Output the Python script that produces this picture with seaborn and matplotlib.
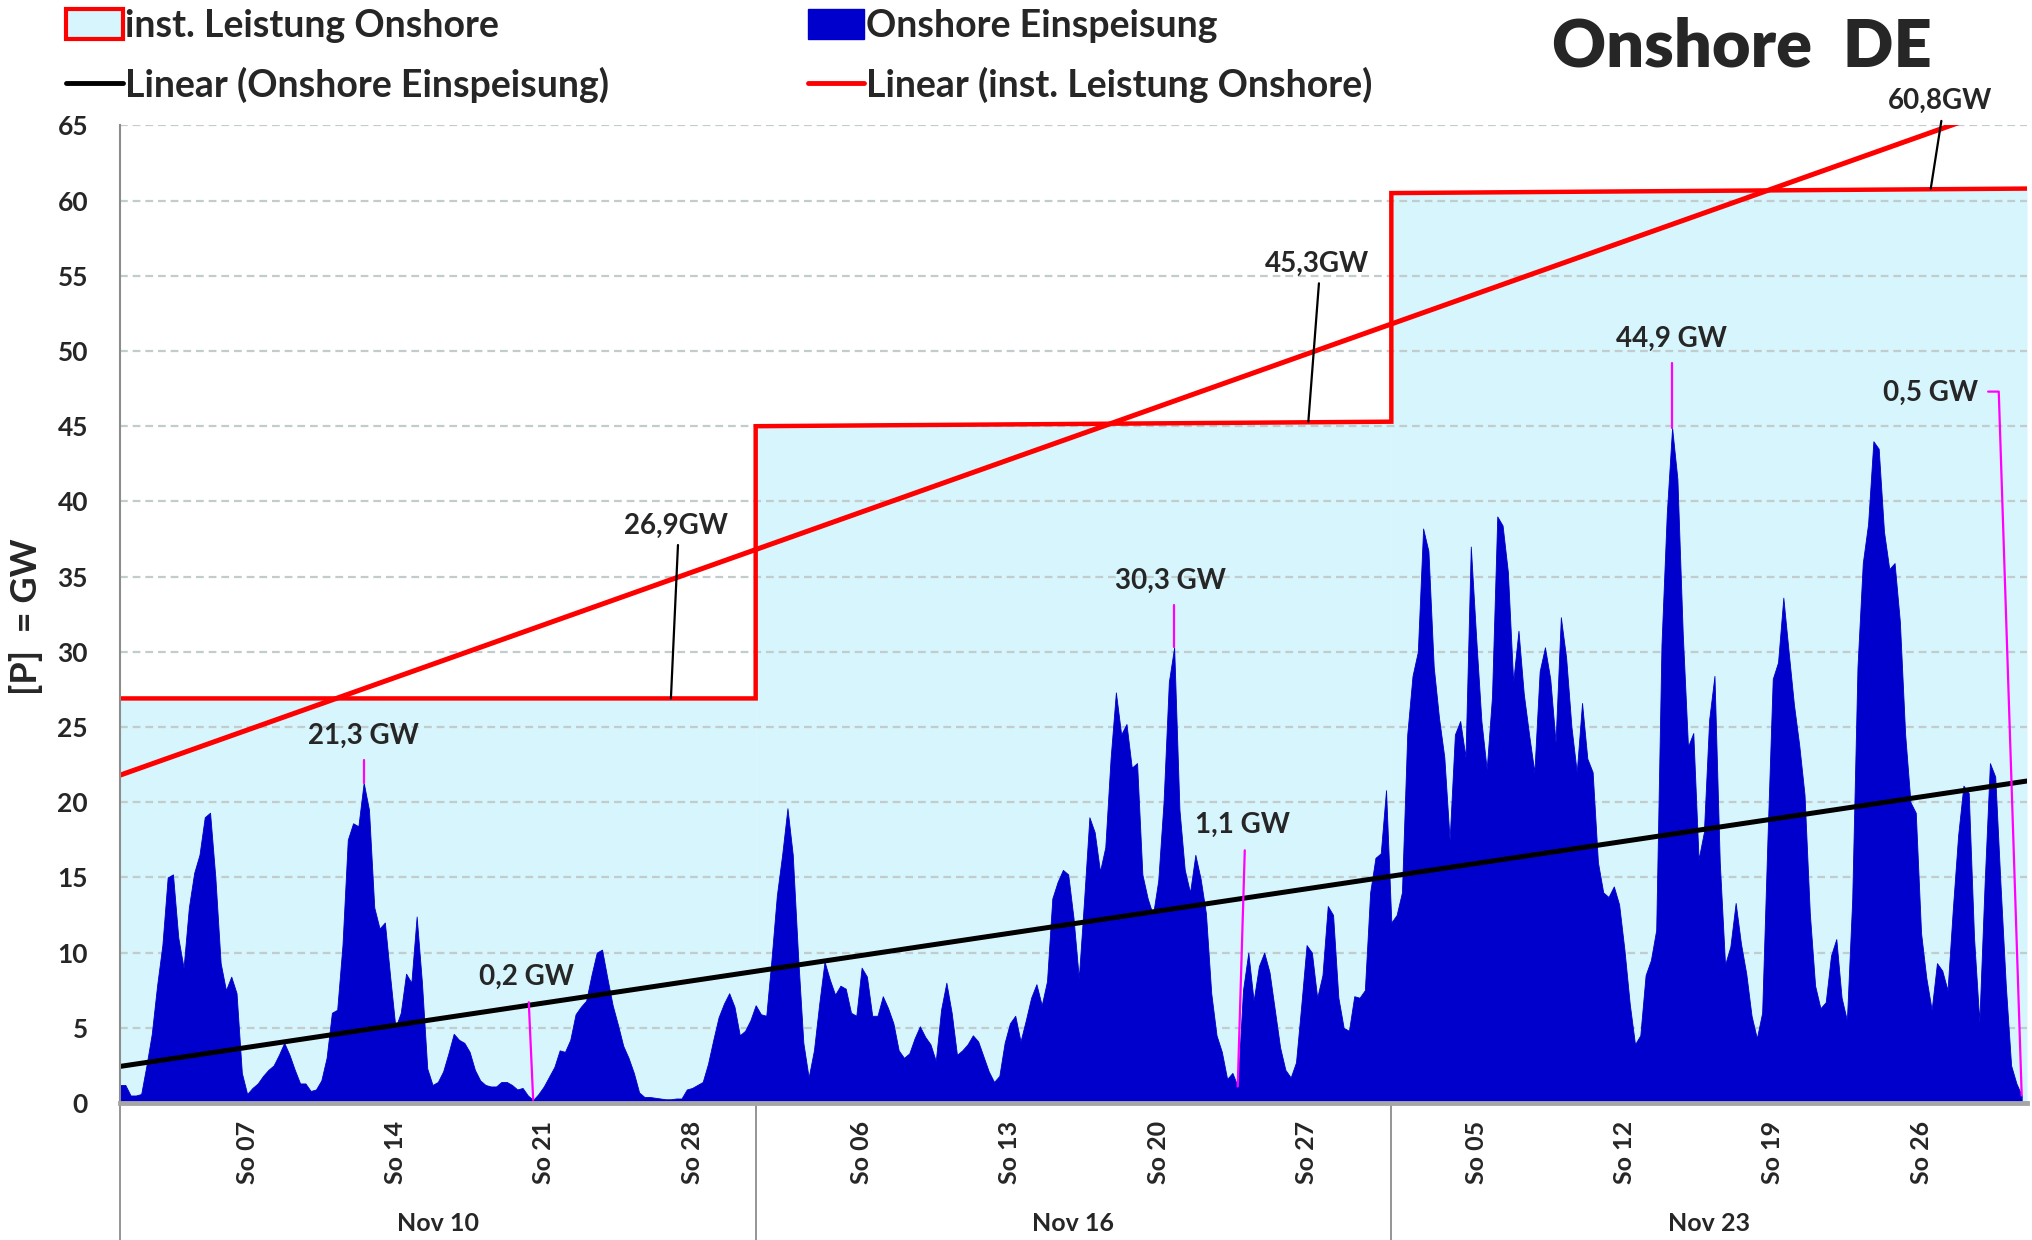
import numpy as np
import pandas as pd
import matplotlib
matplotlib.use("Agg")
import matplotlib.pyplot as plt
import seaborn as sns
from matplotlib.patches import Patch
from matplotlib.lines import Line2D

# ---------------- data (6-hourly feed-in, GW) ----------------
months = ["Nov 10", "Nov 16", "Nov 23"]
nov10 = [1.2, 1.2, 0.5, 0.5, 0.6, 2.5, 4.6, 7.8, 10.5, 15.0,
         15.2, 11.0, 9.0, 13.0, 15.3, 16.5, 19.0, 19.3, 15.0, 9.3,
         7.5, 8.4, 7.3, 2.0, 0.6, 1.0, 1.3, 1.8, 2.2, 2.5,
         3.2, 4.0, 3.2, 2.2, 1.3, 1.3, 0.8, 0.9, 1.5, 3.0,
         6.0, 6.2, 10.5, 17.5, 18.6, 18.4, 21.3, 19.5, 13.0, 11.6,
         12.0, 8.4, 5.0, 6.0, 8.6, 8.0, 12.4, 8.0, 2.3, 1.2,
         1.4, 2.1, 3.3, 4.6, 4.2, 4.0, 3.4, 2.2, 1.5, 1.2,
         1.1, 1.1, 1.4, 1.4, 1.2, 0.9, 1.0, 0.5, 0.2, 0.6,
         1.1, 1.75, 2.4, 3.5, 3.4, 4.2, 5.9, 6.4, 6.8, 8.5,
         10.0, 10.2, 8.3, 6.5, 5.2, 3.8, 3.0, 2.0, 0.7, 0.4,
         0.4, 0.35, 0.3, 0.25, 0.25, 0.3, 0.3, 0.9, 1.0, 1.2,
         1.4, 2.6, 4.2, 5.7, 6.6, 7.3, 6.4, 4.5, 4.8, 5.5]
nov16 = [6.5, 5.9, 5.8, 9.6, 13.8, 16.5, 19.6, 16.5, 9.8, 4.0,
         1.7, 3.5, 6.6, 9.4, 8.2, 7.2, 7.8, 7.6, 6.0, 5.8,
         9.0, 8.4, 5.8, 5.8, 7.1, 6.3, 5.3, 3.5, 3.0, 3.3,
         4.3, 5.1, 4.4, 3.9, 2.8, 6.2, 8.0, 6.0, 3.2, 3.5,
         3.9, 4.5, 4.1, 3.1, 2.1, 1.4, 1.8, 4.0, 5.3, 5.8,
         4.1, 5.5, 7.0, 7.9, 6.5, 8.1, 13.6, 14.7, 15.5, 15.2,
         12.3, 8.3, 13.5, 19.0, 18.0, 15.4, 17.0, 22.9, 27.3, 24.5,
         25.2, 22.3, 22.6, 15.2, 13.6, 12.5, 14.8, 20.0, 28.0, 30.3,
         19.5, 15.5, 14.0, 16.5, 14.9, 12.6, 7.3, 4.5, 3.4, 1.6,
         2.0, 1.1, 7.5, 10.0, 6.8, 9.1, 10.0, 8.7, 6.2, 3.7,
         2.2, 1.7, 2.7, 6.5, 10.5, 10.0, 7.0, 8.5, 13.1, 12.5,
         7.0, 5.0, 4.8, 7.1, 7.0, 7.5, 14.0, 16.3, 16.6, 20.8]
nov23 = [12.0, 12.5, 14.0, 24.5, 28.4, 30.0, 38.2, 36.7, 29.0, 25.6,
         23.0, 17.5, 24.5, 25.4, 23.0, 37.0, 31.0, 25.4, 22.2, 27.0,
         39.0, 38.4, 35.3, 28.0, 31.4, 27.2, 24.5, 22.0, 28.7, 30.3,
         28.2, 24.0, 32.3, 29.6, 25.0, 22.0, 26.6, 22.9, 22.0, 16.0,
         14.0, 13.7, 14.4, 13.2, 10.2, 6.6, 3.9, 4.5, 8.5, 9.5,
         11.5, 30.5, 39.2, 44.9, 41.5, 31.3, 23.7, 24.6, 16.2, 18.0,
         25.5, 28.4, 16.0, 9.2, 10.4, 13.3, 10.6, 8.6, 5.8, 4.3,
         6.0, 17.5, 28.2, 29.3, 33.6, 30.0, 26.5, 23.8, 20.5, 12.6,
         7.8, 6.3, 6.7, 9.8, 10.9, 7.0, 5.5, 13.5, 29.0, 35.9,
         38.5, 44.0, 43.5, 38.0, 35.5, 35.9, 32.0, 24.5, 20.0, 19.3,
         11.3, 8.3, 6.2, 9.3, 8.8, 7.5, 12.9, 17.8, 21.1, 20.6,
         11.0, 5.4, 14.6, 22.6, 21.7, 14.5, 7.8, 2.5, 1.3, 0.5]

inst_start = [26.9, 45.0, 60.5]
inst_end = [26.9, 45.3, 60.8]
inst_labels = ["26,9GW", "45,3GW", "60,8GW"]
sunday_days = [[7, 14, 21, 28], [6, 13, 20, 27], [5, 12, 19, 26]]
peak_labels = ["21,3 GW", "30,3 GW", "44,9 GW"]
low_labels = ["0,2 GW", "1,1 GW", "0,5 GW"]

# ---------------- build frame ----------------
STEP = 6
HPM = 720
series = [nov10, nov16, nov23]
rows = []
for m, vals in enumerate(series):
    for k, v in enumerate(vals):
        rows.append({"month": months[m], "hour": m * HPM + k * STEP, "gw": v,
                     "cap": (inst_start[m] + inst_end[m]) / 2})
df = pd.DataFrame(rows)

# ---------------- style ----------------
sns.set_theme(style="white")
plt.rcParams["font.family"] = ["Lato", "DejaVu Sans"]
plt.rcParams["font.weight"] = "bold"

CYAN = "#D7F5FD"
BLUE = "#0000CC"
RED = "#FF0000"
MAG = "#FF00FF"

fig = plt.figure(figsize=(20.33, 12.4), dpi=100)
ax = fig.add_axes([120 / 2033, 137 / 1240, (2027 - 120) / 2033, (1103 - 125.4) / 1240])
ax.set_xlim(0, 3 * HPM)
ax.set_ylim(0, 65)
ax.set_axisbelow(False)

# installed capacity area (steps)
for m in range(3):
    xs = [m * HPM, (m + 1) * HPM]
    ax.fill_between(xs, [0, 0], [inst_start[m], inst_end[m]], color=CYAN, lw=0, zorder=1)
cap_x, cap_y = [], []
for m in range(3):
    cap_x += [m * HPM, (m + 1) * HPM]
    cap_y += [inst_start[m], inst_end[m]]
ax.plot(cap_x, cap_y, color=RED, lw=3.2, zorder=4, solid_joinstyle="miter")

# feed-in area
ax.fill_between(df["hour"], 0, df["gw"], color=BLUE, lw=0.6, edgecolor=BLUE, zorder=3)

# grid
ax.set_yticks(np.arange(0, 66, 5))
ax.yaxis.grid(True, color="#C3CCCC", lw=1.6, linestyle=(0, (3.5, 2.2)), zorder=2.5)
ax.xaxis.grid(False)

# trend lines
sns.regplot(data=df, x="hour", y="gw", scatter=False, ci=None, truncate=False,
            color="black", line_kws={"lw": 3.6, "zorder": 5}, ax=ax)
sns.regplot(data=df, x="hour", y="cap", scatter=False, ci=None, truncate=False,
            color=RED, line_kws={"lw": 3.6, "zorder": 5}, ax=ax)
ax.set_xlim(0, 3 * HPM)
ax.set_ylim(0, 65)
ax.set_xlabel("")
ax.set_ylabel("")

# ticks
tick_pos, tick_lab = [], []
for m in range(3):
    for d in sunday_days[m]:
        tick_pos.append(m * HPM + (d - 1) * 24)
        tick_lab.append(f"So {d:02d}")
ax.set_xticks(tick_pos)
ax.set_xticklabels(tick_lab, rotation=90, fontsize=18, fontweight="bold")
ax.tick_params(axis="x", length=0, pad=13)
ax.tick_params(axis="y", length=7, width=1.5, color="#8C8C8C", pad=16,
               labelsize=19, direction="out")
for lab in ax.get_yticklabels():
    lab.set_fontweight("bold")

for s in ["top", "right"]:
    ax.spines[s].set_visible(False)
ax.spines["left"].set_color("#8C8C8C")
ax.spines["left"].set_linewidth(1.5)
ax.spines["bottom"].set_color("#A6A6A6")
ax.spines["bottom"].set_linewidth(3.5)
ax.spines["bottom"].set_zorder(6)
ax.spines["left"].set_zorder(6)

# month group separators and labels
trans = ax.get_xaxis_transform()
for m in range(3):
    ax.plot([m * HPM, m * HPM], [0, -0.145], transform=trans, color="#8C8C8C",
            lw=1.3, clip_on=False)
    ax.text(m * HPM + HPM / 2, -0.123, months[m], transform=trans, ha="center",
            va="center", fontsize=18, fontweight="bold")

# peak / low annotations (magenta)
peak_text_pos = [(276, 24.4), (1190, 34.7), (1757, 50.8)]
low_text_pos = [(460, 8.4), (1271, 18.5), (2051, 47.2)]
for m, vals in enumerate(series):
    arr = np.array(vals)
    i_max = int(arr.argmax())
    xm = m * HPM + i_max * STEP
    tx, ty = peak_text_pos[m]
    ax.plot([xm, xm], [arr[i_max], ty - 1.6], color=MAG, lw=1.6, zorder=6)
    ax.text(tx, ty, peak_labels[m], ha="center", va="center", fontsize=20,
            fontweight="bold", zorder=7)
    i_min = int(arr.argmin())
    xn = m * HPM + i_min * STEP
    tx, ty = low_text_pos[m]
    if m < 2:
        ax.plot([xn, tx + 3], [arr[i_min], ty - 1.7], color=MAG, lw=1.6, zorder=6)
    else:
        ax.plot([xn, 2128, 2116], [arr[i_min], ty + 0.1, ty + 0.1], color=MAG,
                lw=1.6, zorder=6, clip_on=False)
    ax.text(tx, ty, low_labels[m], ha="center", va="center", fontsize=20,
            fontweight="bold", zorder=7)

# installed capacity callouts (black)
cap_text_pos = [(630, 38.4), (1356, 55.8), (2061, 66.6)]
cap_point_x = [624, 1346, 2051]
for m in range(3):
    tx, ty = cap_text_pos[m]
    ax.plot([cap_point_x[m], tx + 2], [inst_end[m], ty - 1.3], color="black",
            lw=1.6, zorder=6, clip_on=False)
    ax.text(tx, ty, inst_labels[m], ha="center", va="center", fontsize=20,
            fontweight="bold", zorder=7, clip_on=False)

# y label & title
fig.text(26 / 2033, 0.503, "[P]  = GW", rotation=90, ha="center", va="center",
         fontsize=26, fontweight="bold")
fig.text(0.857, 0.962, "Onshore  DE", ha="center", va="center", fontsize=48,
         fontweight="heavy")

# legend
handles = [
    Patch(facecolor=CYAN, edgecolor=RED, lw=3),
    Line2D([0], [0], color="black", lw=3.5),
    Patch(facecolor=BLUE, edgecolor=BLUE),
    Line2D([0], [0], color=RED, lw=3.5),
]
labels = ["inst. Leistung Onshore", "Linear (Onshore Einspeisung)",
          "Onshore Einspeisung", "Linear (inst. Leistung Onshore)"]
leg = fig.legend(handles, labels, ncol=2, loc="upper left",
                 bbox_to_anchor=(0.0216, 1.011), frameon=False,
                 prop={"family": "Lato", "weight": "bold", "size": 27},
                 handlelength=1.5, handleheight=0.85, handletextpad=0.06,
                 columnspacing=5.3, labelspacing=0.64, borderpad=0.1)

fig.savefig("out.png", dpi=100)
